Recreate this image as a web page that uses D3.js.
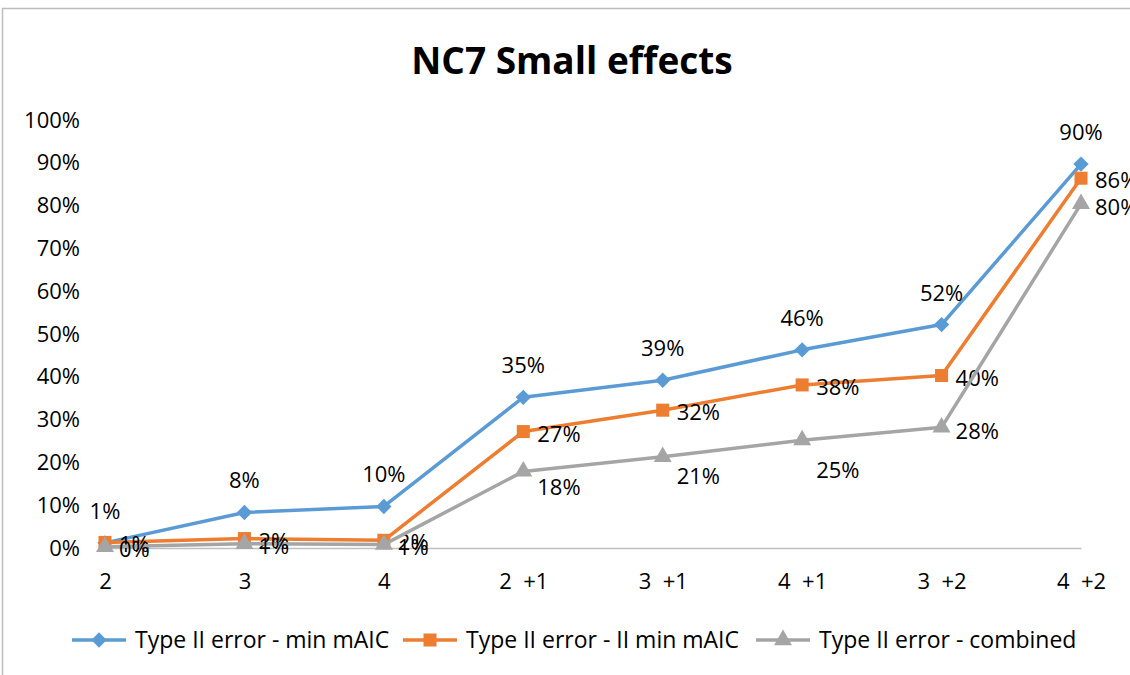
<!DOCTYPE html>
<html>
<head>
<meta charset="utf-8">
<script src="https://cdn.jsdelivr.net/npm/d3@7"></script>
<style>
  body { margin: 0; background: #fff; }
  text { font-family: "Open Sans", "DejaVu Sans", sans-serif; fill: #000; }
</style>
</head>
<body>
<div id="chart"></div>
<script>
// datos
const categories = ["2", "3", "4", "2  +1", "3  +1", "4  +1", "3  +2", "4  +2"];
const minMAIC = [0.012, 0.083, 0.097, 0.352, 0.392, 0.463, 0.522, 0.897];
const iiMinMAIC = [0.013, 0.022, 0.018, 0.272, 0.322, 0.381, 0.403, 0.864];
const combined = [0.003, 0.010, 0.008, 0.179, 0.213, 0.252, 0.282, 0.804];
const seriesNames = ["Type II error - min mAIC", "Type II error - II min mAIC", "Type II error - combined"];
const yTicks = [0, 0.1, 0.2, 0.3, 0.4, 0.5, 0.6, 0.7, 0.8, 0.9, 1];

// desplazamiento vertical de las etiquetas grises (colocadas a mano en el original)
const grayLabelDy = [0, 0, 0, 14, 17, 28, 2, 1];

const width = 1130, height = 675;
const colors = ["#5B9BD5", "#ED7D31", "#A5A5A5"];
const symbols = [d3.symbolDiamond2, d3.symbolSquare, d3.symbolTriangle];
const symSize = [150, 170, 140];

const series = [minMAIC, iiMinMAIC, combined].map(function(vals, i) {
    return { name: seriesNames[i], values: vals.map(function(v, j) { return { cat: categories[j], v: v, j: j }; }) };
});

const svg = d3.select("#chart").append("svg")
    .attr("width", width)
    .attr("height", height);

svg.append("rect")
    .attr("x", 2.5).attr("y", 8.5)
    .attr("width", 1200).attr("height", 800)
    .attr("fill", "none")
    .attr("stroke", "#bcbcbc")
    .attr("stroke-width", 1.5);

const x = d3.scalePoint().domain(categories).range([105, 1081]);
const y = d3.scaleLinear().domain([0, 1]).range([548, 120]);

// titulo
svg.append("text")
    .attr("x", 572).attr("y", 74)
    .attr("text-anchor", "middle")
    .style("font-size", "37px")
    .style("font-weight", "bold")
    .text("NC7 Small effects");

// eje y
const yAxis = svg.append("g")
    .attr("transform", "translate(84,0)")
    .call(d3.axisLeft(y).tickValues(yTicks).tickFormat(d3.format(".0%")).tickSize(0).tickPadding(4));
yAxis.select(".domain").remove();
yAxis.selectAll("text").style("font-size", "22px").style("font-family", "'Open Sans', sans-serif");

// eje x
const xAxis = svg.append("g")
    .attr("transform", "translate(0,548)")
    .call(d3.axisBottom(x).tickSize(0).tickPadding(25));
xAxis.select(".domain").attr("stroke", "#bfbfbf").attr("stroke-width", 1.3);
xAxis.selectAll("text").style("font-size", "22px").style("font-family", "'Open Sans', sans-serif")
    .style("white-space", "pre");

const line = d3.line()
    .x(function(d) { return x(d.cat); })
    .y(function(d) { return y(d.v); });

const groups = svg.selectAll(".serie")
    .data(series)
    .enter().append("g")
    .attr("class", "serie");

groups.append("path")
    .attr("fill", "none")
    .attr("stroke", function(d, i) { return colors[i]; })
    .attr("stroke-width", 3.5)
    .attr("stroke-linejoin", "round")
    .attr("stroke-linecap", "round")
    .attr("d", function(d) { return line(d.values); });

groups.each(function(s, i) {
    d3.select(this).selectAll(".marker")
        .data(s.values)
        .enter().append("path")
        .attr("class", "marker")
        .attr("d", d3.symbol().type(symbols[i]).size(symSize[i]))
        .attr("fill", colors[i])
        .attr("transform", function(d) { return "translate(" + x(d.cat) + "," + y(d.v) + ")"; });
});

// etiquetas de datos
const fmt = d3.format(".0%");
groups.each(function(s, i) {
    d3.select(this).selectAll(".etiqueta")
        .data(s.values)
        .enter().append("text")
        .attr("class", "etiqueta")
        .style("font-size", "22px")
        .attr("text-anchor", i === 0 ? "middle" : "start")
        .attr("x", function(d) { return i === 0 ? x(d.cat) : x(d.cat) + 14; })
        .attr("y", function(d) {
            if (i === 0) return y(d.v) - 24;
            if (i === 1) return y(d.v) + 10;
            return y(d.v) + 10 + grayLabelDy[d.j];
        })
        .text(function(d) { return fmt(d.v); });
});

// leyenda
const legendX = [72, 403, 756];
const legend = svg.selectAll(".leyenda")
    .data(series)
    .enter().append("g")
    .attr("class", "leyenda")
    .attr("transform", function(d, i) { return "translate(" + legendX[i] + ",640)"; });

legend.append("line")
    .attr("x1", 0).attr("x2", 54)
    .attr("stroke", function(d, i) { return colors[i]; })
    .attr("stroke-width", 3.5);

legend.append("path")
    .attr("d", function(d, i) { return d3.symbol().type(symbols[i]).size(symSize[i])(); })
    .attr("fill", function(d, i) { return colors[i]; })
    .attr("transform", "translate(27,0)");

legend.append("text")
    .attr("x", 63).attr("y", 8)
    .style("font-size", "23px")
    .text(function(d) { return d.name; });
</script>
</body>
</html>
